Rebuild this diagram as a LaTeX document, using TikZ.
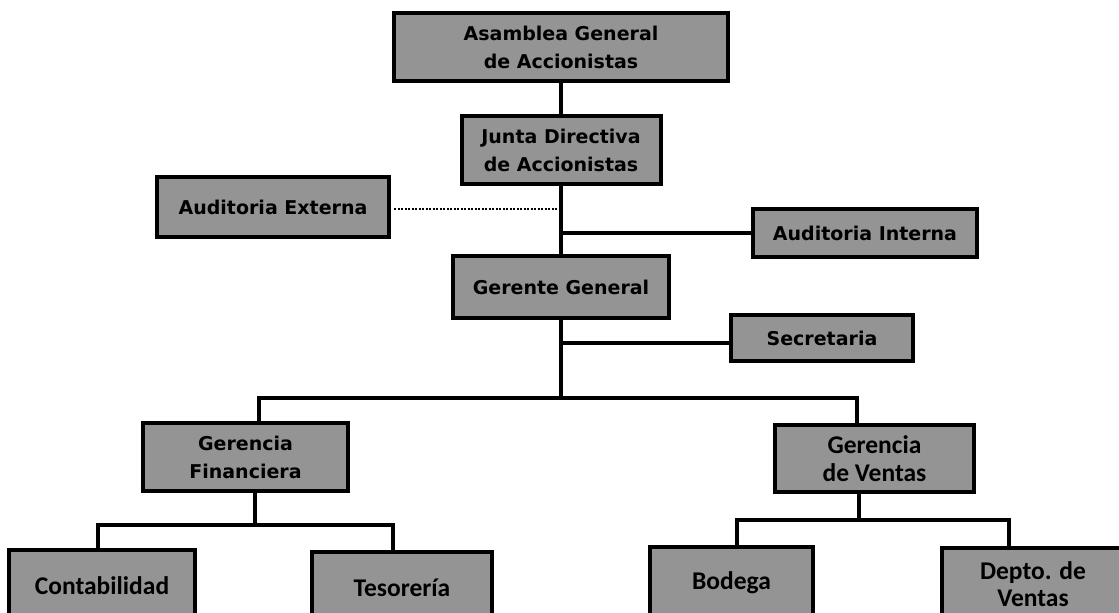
\documentclass[tikz,border=0pt]{standalone}
\usepackage{fontspec}
\usetikzlibrary{calc}
\newfontfamily\tahfont{DejaVu Sans}
\newfontfamily\calfont{Carlito}
\definecolor{boxgray}{RGB}{148,148,148}
\begin{document}
\begin{tikzpicture}[x=1pt,y=-1pt,
  box/.style={draw=black, line width=4pt, fill=boxgray, inner sep=0pt,
    align=center, text=black},
  tbox/.style={box, font=\tahfont\bfseries\fontsize{19}{28}\selectfont},
  cbox/.style={box, font=\calfont\bfseries\fontsize{25.5}{27.5}\selectfont},
  link/.style={line width=4pt, line cap=rect},
  dotlink/.style={line width=2pt, dash pattern=on 2pt off 1.5pt}]
\clip (0,0) rectangle (1119,613);
\fill[white] (0,0) rectangle (1119,613);

% top of the hierarchy
\node[tbox, minimum width=334, minimum height=68] (A) at (561,47) {Asamblea General\\de Accionistas};
\node[tbox, minimum width=199, minimum height=68] (J) at (561,150) {Junta Directiva\\de Accionistas};
\node[tbox, minimum width=232, minimum height=60] (AE) at (273,207) {Auditoria Externa};
\node[tbox, minimum width=224, minimum height=48] (AI) at (865,233) {Auditoria Interna};
\node[tbox, minimum width=216, minimum height=62] (G) at (561,287) {Gerente General};
\node[tbox, minimum width=182, minimum height=46] (S) at (822,338) {Secretaria};

% managements
\node[tbox, minimum width=205, minimum height=68] (GF) at (245.5,457) {Gerencia\\Financiera};
\node[cbox, minimum width=199, minimum height=67] (GV) at (874.5,458.5) {Gerencia\\de Ventas};

% departments (boxes run past the lower edge)
\node[cbox, minimum width=186, minimum height=72] (C) at (102,586) {Contabilidad};
\node[cbox, minimum width=180, minimum height=72] (T) at (402,588) {Tesorería};
\node[cbox, minimum width=163, minimum height=72] (B) at (731.5,583) {Bodega};
\node[cbox, minimum width=182, minimum height=72] (D) at (1033,584) {Depto. de\\Ventas};

% main trunk
\draw[link] (A.south) -- (J.north);
\draw[link] (J.south) -- (G.north);
\draw[dotlink] ($(AE.east)+(3,2)$) -- ($(AE.east -| J.south)+(-3,2)$);
\draw[link] (AI.west) -- (AI.west -| J.south);
\draw[link] ($(S.west)+(0,5)$) coordinate (sj) -- (sj -| G.south);

% branch to the two managements
\coordinate (bus) at (561,398);
\draw[link] (G.south) -- (bus);
\draw[link] ([xshift=13.5pt]GF.north) -- ([xshift=13.5pt]GF.north |- bus)
  -- ([xshift=-17.5pt]GV.north |- bus) -- ([xshift=-17.5pt]GV.north);

% financial branch
\coordinate (fbus) at (255,525);
\draw[link] ([xshift=9.5pt]GF.south) -- ([xshift=9.5pt]GF.south |- fbus);
\draw[link] ([xshift=-4pt]C.north) -- ([xshift=-4pt]C.north |- fbus)
  -- ([xshift=-9pt]T.north |- fbus) -- ([xshift=-9pt]T.north);

% sales branch
\coordinate (vbus) at (859,520);
\draw[link] ([xshift=-15.5pt]GV.south) -- ([xshift=-15.5pt]GV.south |- vbus);
\draw[link] ([xshift=5.5pt]B.north) -- ([xshift=5.5pt]B.north |- vbus)
  -- ([xshift=-24pt]D.north |- vbus) -- ([xshift=-24pt]D.north);
\end{tikzpicture}
\end{document}
